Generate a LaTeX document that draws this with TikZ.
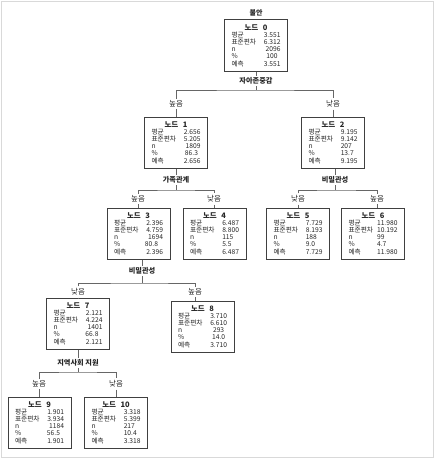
\documentclass[tikz,border=0pt]{standalone}
\usepackage{fontspec}
\setmainfont{Noto Sans CJK KR}
\usepackage{calc}
\usepackage{xcolor}
\usepackage{tikz}
\usetikzlibrary{positioning}
\definecolor{myframe}{rgb}{0.85, 0.85, 0.85}
\definecolor{myline}{rgb}{0.40, 0.40, 0.40}
\definecolor{mybox}{rgb}{0.25, 0.25, 0.25}
\definecolor{mytext}{rgb}{0.15, 0.15, 0.15}
\tikzstyle{treebox} = [rectangle, draw=mybox, line width=1pt, minimum width=63pt, minimum height=51pt, text width=49pt, inner xsep=7pt, inner ysep=2pt, align=left, text=mytext, font=\fontsize{6.7}{7.2}\selectfont]
\tikzstyle{title} = [inner sep=1pt, text=mytext, font=\fontsize{7}{8}\selectfont\bfseries]
\tikzstyle{split} = [inner sep=1.5pt, text=mytext, font=\fontsize{7.2}{8}\selectfont\bfseries]
\tikzstyle{branch} = [inner sep=2pt, text=mytext, font=\fontsize{7.5}{8}\selectfont]
\tikzstyle{conn} = [draw=myline, line width=0.8pt]
\newcommand{\lval}[2]{\makebox[\widthof{#2}][l]{#1}}
\newcommand{\cval}[2]{\makebox[\widthof{#2}][c]{#1}}
\newcommand{\stats}[6]{\hfill{\fontsize{7.5}{7.2}\selectfont\bfseries 노드\ \ #1}\hfill\null\\
평균\hfill #2\\
표준편차\hfill #3\\
n\hfill #4\\
\%\hfill #5\\
예측\hfill #6}

\begin{document}
\begin{tikzpicture}[x=1pt, y=-1pt]
    \useasboundingbox (0,0) rectangle (434,460);
    \draw[myframe, line width=0.8pt] (1,1) rectangle (433,457);

    \node (n0) [treebox] at (256,45.5) {\stats{0}{3.551}{6.312}{2096}{100\kern3pt}{3.551}};
    \node (t0) [title, above=2pt of n0] {불안};
    \node (s0) [split] at (256,81) {자아존중감};
    \coordinate (j0) at (256,90);
    \node (b1) [branch] at (176,104) {높음};
    \node (b2) [branch] at (333,104) {낮음};

    \node (n1) [treebox] at (176,142.5) {\stats{1}{2.656}{5.205}{1809}{86.3\kern2.5pt}{2.656}};
    \node (n2) [treebox] at (333,142.5) {\stats{2}{9.195}{9.142}{\lval{207}{9.195}}{\lval{13.7}{9.195}}{9.195}};
    \node (s1) [split] at (176,180) {가족관계};
    \coordinate (j1) at (176,190);
    \node (b3) [branch] at (138,199) {높음};
    \node (b4) [branch] at (214,199) {낮음};
    \node (s2) [split] at (335,180) {비밀관성};
    \coordinate (j2) at (335,190);
    \node (b5) [branch] at (298,199) {낮음};
    \node (b6) [branch] at (377,199) {높음};

    \node (n3) [treebox] at (138.5,233.5) {\stats{3}{2.396}{4.759}{1694}{80.8\kern5pt}{2.396}};
    \node (n4) [treebox] at (214.5,233.5) {\stats{4}{6.487}{8.800}{\lval{115}{6.487}}{\lval{5.5}{6.487}}{6.487}};
    \node (n5) [treebox] at (298,233.5) {\stats{5}{7.729}{8.193}{\lval{188}{7.729}}{\lval{9.0}{7.729}}{7.729}};
    \node (n6) [treebox] at (373,233.5) {\stats{6}{11.980}{10.192}{\lval{99}{11.980}}{\lval{4.7}{11.980}}{11.980}};
    \node (s3) [split] at (142,271) {비밀관성};
    \coordinate (j3) at (142,283);
    \node (b7) [branch] at (78,292) {낮음};
    \node (b8) [branch] at (195,292) {높음};

    \node (n7) [treebox] at (78,323.5) {\stats{7}{2.121}{4.224}{1401}{66.8\kern4pt}{2.121}};
    \node (n8) [treebox] at (202.5,326.5) {\stats{8}{3.710}{6.610}{\cval{293}{3.710}}{\cval{14.0}{3.710}}{3.710}};
    \node (s7) [split] at (78,363) {지역사회 지원};
    \coordinate (j7) at (78,372);
    \node (b9) [branch] at (39,384) {높음};
    \node (b10) [branch] at (116,384) {낮음};

    \node (n9) [treebox] at (39.5,422.5) {\stats{9}{1.901}{3.934}{1184}{56.5\kern4pt}{1.901}};
    \node (n10) [treebox] at (116,422.5) {\stats{10}{3.318}{5.399}{\lval{217}{3.318}}{\lval{10.4}{3.318}}{3.318}};

    \draw[conn] (s0 |- n0.south) -- (s0);
    \draw[conn] (s0) -- (j0);
    \draw[conn] (b1) |- (j0) -| (b2);
    \draw[conn] (b1) -- (b1 |- n1.north);
    \draw[conn] (b2) -- (b2 |- n2.north);

    \draw[conn] (s1 |- n1.south) -- (s1);
    \draw[conn] (s1) -- (j1);
    \draw[conn] (b3) |- (j1) -| (b4);
    \draw[conn] (b3) -- (b3 |- n3.north);
    \draw[conn] (b4) -- (b4 |- n4.north);
    \draw[conn] (s2 |- n2.south) -- (s2);
    \draw[conn] (s2) -- (j2);
    \draw[conn] (b5) |- (j2) -| (b6);
    \draw[conn] (b5) -- (b5 |- n5.north);
    \draw[conn] (b6) -- (b6 |- n6.north);

    \draw[conn] (s3 |- n3.south) -- (s3);
    \draw[conn] (s3) -- (j3);
    \draw[conn] (b7) |- (j3) -| (b8);
    \draw[conn] (b7) -- (b7 |- n7.north);
    \draw[conn] (b8) -- (b8 |- n8.north);

    \draw[conn] (s7 |- n7.south) -- (s7);
    \draw[conn] (s7) -- (j7);
    \draw[conn] (b9) |- (j7) -| (b10);
    \draw[conn] (b9) -- (b9 |- n9.north);
    \draw[conn] (b10) -- (b10 |- n10.north);
\end{tikzpicture}
\end{document}
